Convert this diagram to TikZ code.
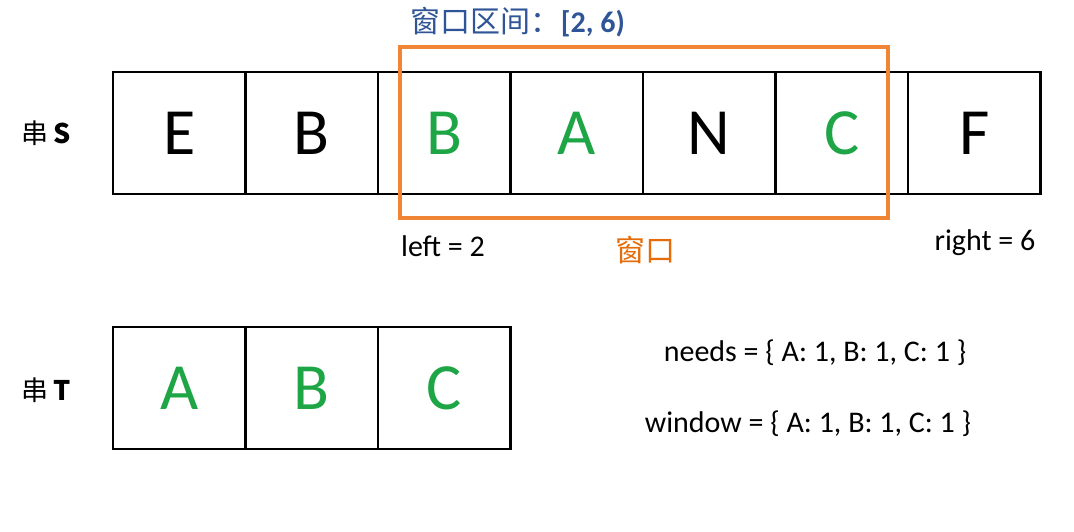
\documentclass[tikz,border=0pt]{standalone}
\usepackage{fontspec}
\setmainfont{Carlito}
\newfontfamily\cjk{Noto Sans CJK SC}
\usetikzlibrary{positioning}
\definecolor{wingreen}{RGB}{30,165,70}
\definecolor{winorange}{RGB}{240,133,54}
\definecolor{labelorange}{RGB}{228,108,10}
\definecolor{titleblue}{RGB}{47,85,151}

\begin{document}
\begin{tikzpicture}[x=1pt, y=-1pt,
    cell/.style={draw, line width=2.8pt, minimum width=132.5pt, minimum height=122pt,
        inner sep=0pt, outer sep=0pt, font=\fontsize{66}{66}\selectfont},
    winbox/.style={draw=winorange, line width=4pt, minimum width=488pt, minimum height=171pt,
        inner sep=0pt, outer sep=0pt},
    strname/.style={font=\fontsize{27}{27}\selectfont},
    note/.style={font=\fontsize{30}{30}\selectfont, inner sep=0pt}]
    \useasboundingbox (0,0) rectangle (1074,531);

    % the cells of string S
    \node[cell] (s1) at (179.25,133) {E};
    \foreach \ch/\col [count=\i from 2] in {B/black, B/wingreen, A/wingreen, N/black, C/wingreen, F/black}
    {
        \pgfmathtruncatemacro\prev{\i-1}
        \node[cell, text=\col, right=0pt of s\prev] (s\i) {\ch};
    }

    % the cells of string T
    \node[cell, text=wingreen] (t1) at (179.25,388) {A};
    \foreach \ch [count=\i from 2] in {B, C}
    {
        \pgfmathtruncatemacro\prev{\i-1}
        \node[cell, text=wingreen, right=0pt of t\prev] (t\i) {\ch};
    }

    % the orange window over S
    \node[winbox] (win) at (644,132.5) {};

    % the names of the strings
    \node[strname] (sname) at (46,133) {\cjk 串\,\textbf{S}};
    \node[strname] (tname) at (46,390) {\cjk 串\,\textbf{T}};

    % the title above the window
    \node[note, text=titleblue] (title) at (518,22) {{\cjk 窗口区间：}\textbf{[2, 6)}};

    % the labels below S
    \node[note] (left) at (443,246) {left = 2};
    \node[note, text=labelorange] (winlabel) at (645,250) {\cjk 窗口};
    \node[note] (right) at (985,243) {right = 6};

    % the two maps
    \node[note] (needs) at (815,353) {needs = \{ A: 1, B: 1, C: 1 \}};
    \node[note] (window) at (808,424) {window = \{ A: 1, B: 1, C: 1 \}};
\end{tikzpicture}
\end{document}
